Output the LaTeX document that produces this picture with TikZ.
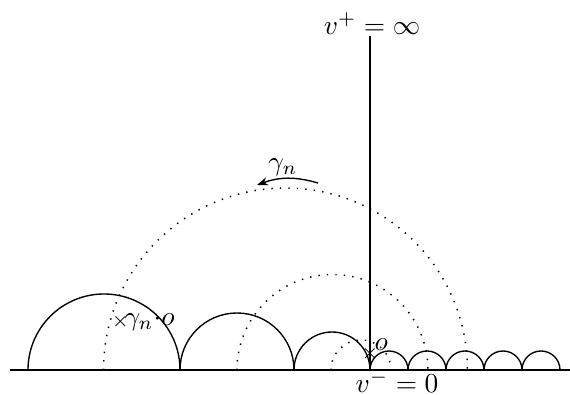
\documentclass[tikz,border=0pt]{standalone}
\usetikzlibrary{arrows.meta}
\begin{document}
\begin{tikzpicture}[x=0.365pt,y=0.365pt,
  solidarc/.style={line width=0.5pt},
  dotarc/.style={line width=0.55pt,dash pattern=on 0.5pt off 2.6pt},
  lbl/.style={inner sep=0pt}]
\useasboundingbox (0,-25) rectangle (570,370);
% boundary line
\coordinate (bl) at (10,0);
\coordinate (br) at (570,0);
\draw[solidarc] (bl) -- (br);
% vertical geodesic
\node[lbl] (vplus) at (372,346) {$v^+=\infty$};
\node[lbl] (vminus) at (397,-12) {$v^-=0$};
\coordinate (vtop) at (370,334);
\coordinate (vbot) at (370,0);
\draw[solidarc] (vtop) -- (vbot);
% solid semicircles
\foreach \c/\r in {104/76,237/57,332/38,389/19,427/19,465/19,503/19,541/19}
  \draw[solidarc] (\c-\r,0) arc[start angle=180,end angle=0,radius=\r];
% dotted arcs
\foreach \c/\r in {361/30,332.5/95.5,285.5/182}
  \draw[dotarc] (\c-\r,0) arc[start angle=180,end angle=0,radius=\r];
% points
\node[lbl] (o) at (370,16) {$\scriptstyle\times$};
\node[lbl,anchor=south west] (olabel) at (374,19) {$o$};
\node[lbl] (go) at (120.5,48) {$\scriptstyle\times$};
\node[lbl,anchor=west] (golabel) at (124,48) {$\gamma_n{\cdot}o$};
% gamma_n arrow
\node[lbl] (gam) at (283,203) {$\gamma_n$};
\coordinate (ga) at (318,187);
\coordinate (gb) at (257,185);
\draw[line width=0.5pt,-{Stealth[length=4pt,width=3pt]}] (ga) to[bend right=18] (gb);
\end{tikzpicture}
\end{document}
